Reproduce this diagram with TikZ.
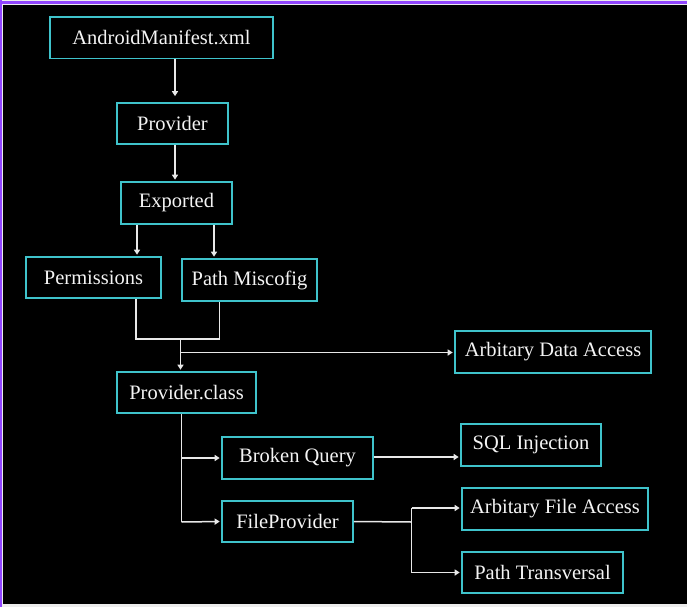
\documentclass[tikz,border=0pt]{standalone}
\usepackage{fontspec}
\setmainfont{Liberation Serif}
\usetikzlibrary{arrows.meta,calc}
\definecolor{boxc}{HTML}{3FC3CB}
\definecolor{linec}{HTML}{E8E8E8}
\definecolor{txtc}{HTML}{F4F4F4}
\definecolor{framep}{HTML}{9146FF}
\definecolor{frameg}{HTML}{EDEDED}
\begin{document}
\begin{tikzpicture}[x=1pt,y=-1pt,
  box/.style={draw=boxc, line width=1.6pt, text=txtc, font=\fontsize{20.5}{24}\selectfont, inner sep=0pt, anchor=center},
  conn/.style={draw=linec, line width=1.5pt},
  arr/.style={conn, -{Triangle[width=6pt,length=5pt]}, shorten >=1.5pt}]
\useasboundingbox (0,0) rectangle (687,607);
\fill[frameg] (0,0) rectangle (687,607);
\fill[framep] (0,1.2) rectangle (687,3.8);
\fill[framep] (0,0) rectangle (1.8,607);
\fill[black] (3,5.5) rectangle (687,603.5);

\node[box, minimum width=223pt, minimum height=41.5pt] (am) at (161.5,37.75) {AndroidManifest.xml};
\node[box, minimum width=111pt, minimum height=41pt] (prov) at (172.5,123.5) {Provider};
\node[box, minimum width=111pt, minimum height=42pt] (exp) at (176.5,203) {Exported};
\node[box, minimum width=135pt, minimum height=41pt] (perm) at (93.5,277.5) {Permissions};
\node[box, minimum width=135pt, minimum height=42pt] (pathm) at (249.5,280) {Path Miscofig};
\node[box, minimum width=196pt, minimum height=42pt] (ada) at (553,352) {Arbitary Data Access};
\node[box, minimum width=139pt, minimum height=41pt] (pclass) at (186.5,392.5) {Provider.class};
\node[box, minimum width=151pt, minimum height=42pt] (bq) at (297.5,458) {Broken Query};
\node[box, minimum width=140pt, minimum height=42pt] (sql) at (531,445) {SQL Injection};
\node[box, minimum width=131pt, minimum height=41pt] (fp) at (287.5,521.5) {FileProvider};
\node[box, minimum width=186pt, minimum height=42pt] (afa) at (555,509) {Arbitary File Access};
\node[box, minimum width=161pt, minimum height=41pt] (pt) at (542.5,572.5) {Path Transversal};

% helper coordinates
\coordinate (xa) at (175,0);
\coordinate (xe1) at (137,0);
\coordinate (xe2) at (214,0);
\coordinate (xp1) at (136,0);
\coordinate (xp2) at (219.5,0);
\coordinate (jm) at (180.5,339);
\coordinate (jl) at (136,339);
\coordinate (jr) at (219.5,339);
\coordinate (jb) at (180.5,352.5);
\coordinate (xc) at (181.5,0);
\coordinate (vb) at (181.5,522);
\coordinate (sq) at (411.5,522);
\coordinate (st) at (411.5,508);
\coordinate (sb) at (411.5,572.5);

\draw[arr, shorten >=6pt] (am.south -| xa) -- (prov.north -| xa);
\draw[arr] (prov.south -| xa) -- (exp.north -| xa);
\draw[arr] (exp.south -| xe1) -- (perm.north -| xe1);
\draw[arr] (exp.south -| xe2) -- (pathm.north -| xe2);
\draw[conn] (perm.south -| xp1) -- (jl) -- (jr) -- (pathm.south -| xp2);
\draw[arr] (jm) -- (pclass.north -| jm);
\draw[arr] (jb) -- (ada.west |- jb);
\draw[conn] (pclass.south -| xc) -- (vb);
\draw[arr] (bq.west -| xc) -- (bq.west);
\draw[arr] (vb) -- (fp.west);
\draw[arr] ($(bq.east)+(0,-1)$) -- ($(sql.west |- bq.east)+(0,-1)$);
\draw[conn] (fp.east) -- (sq);
\draw[conn] (st) -- (sb);
\draw[arr] (st) -- (afa.west |- st);
\draw[arr] (sb) -- (pt.west);
\end{tikzpicture}
\end{document}
